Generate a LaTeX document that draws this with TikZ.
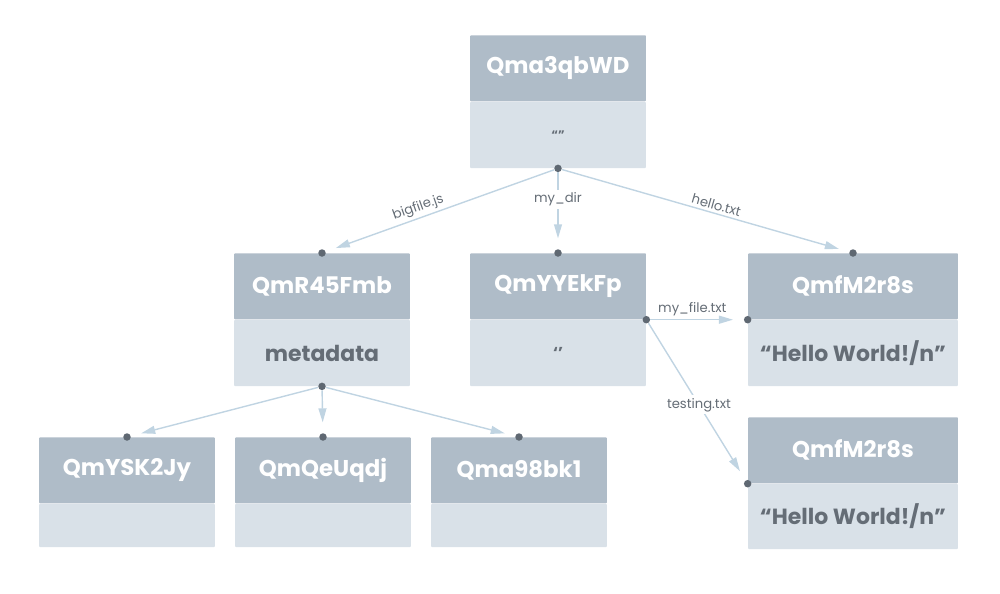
\documentclass[tikz,border=0pt]{standalone}
\usepackage{fontspec}
\setmainfont{Poppins}
\usepackage{tikz}
\usetikzlibrary{arrows.meta}
\usetikzlibrary{positioning}
\definecolor{hgray}{HTML}{AFBCC8}
\definecolor{bgray}{HTML}{D9E1E8}
\definecolor{dgray}{HTML}{5F6872}
\definecolor{lblue}{HTML}{C0D4E2}
\definecolor{tgray}{HTML}{656D76}
\tikzset{
  hd/.style = {fill=hgray, text=white, font=\bfseries\fontsize{13}{15}\selectfont,
    minimum width=3.52cm, minimum height=1.32cm, inner sep=0, rounded corners=0.5pt},
  bd/.style = {fill=bgray, text=tgray, font=\bfseries\fontsize{12.5}{15}\selectfont,
    minimum width=3.52cm, minimum height=1.32cm, inner sep=0, rounded corners=0.5pt},
  circ/.style = {fill=dgray, circle, inner sep=0, minimum size=0.15cm},
  link/.style = {draw=lblue, line width=0.8pt, -{Triangle[length=8pt,width=4.5pt]}, shorten >=6pt},
  lbl/.style = {text=tgray, font=\fontsize{7.5}{9}\selectfont, inner sep=1.5pt}
}

\begin{document}
\begin{tikzpicture}[x=0.02cm, y=-0.02cm]
    \useasboundingbox (0, 0) rectangle (1000, 593);

    % root
    \node [hd, anchor=north] (root) at (558, 35) {Qma3qbWD};
    \node [bd, below=0pt of root, font=\bfseries\fontsize{7}{8}\selectfont] (rootb) {“”};

    % second row
    \node [hd, anchor=north] (big) at (322, 253) {QmR45Fmb};
    \node [bd, below=0pt of big] (bigb) {metadata};
    \node [hd, anchor=north] (dir) at (558, 253) {QmYYEkFp};
    \node [bd, below=0pt of dir, font=\bfseries\fontsize{9}{10}\selectfont] (dirb) {‘’};
    \node [hd, anchor=north, minimum width=4.2cm] (hello) at (853, 253) {QmfM2r8s};
    \node [bd, below=0pt of hello, minimum width=4.2cm] (hellob) {“Hello World!/n”};
    \node [hd, anchor=north, minimum width=4.2cm] (test) at (853, 417) {QmfM2r8s};
    \node [bd, below=0pt of test, minimum width=4.2cm, minimum height=1.3cm] (testb) {“Hello World!/n”};

    % blocks of bigfile.js
    \foreach \x/\n/\t in {127/ysk/QmYSK2Jy, 323/qeu/QmQeUqdj, 519/q98/Qma98bk1} {
      \node [hd, anchor=north] (\n) at (\x, 437) {\t};
      \node [bd, below=0pt of \n, minimum height=0.86cm] (\n b) {};
      \node [circ] (\n d) at (\n.north) {};
    }

    % dots
    \node [circ] (rootd) at (rootb.south) {};
    \node [circ] (bigd) at (big.north) {};
    \node [circ] (bigbd) at (bigb.south) {};
    \node [circ] (dird) at (dir.north) {};
    \node [circ] (dirbd) at (dir.south east) {};
    \node [circ] (hellod) at (hello.north) {};
    \node [circ] (hellobd) at (hello.south west) {};
    \node [circ] (testd) at (test.south west) {};

    % links
    \draw [link] (rootd) -- node [lbl, sloped, above, pos=0.58] {bigfile.js} (bigd);
    \draw [link] (rootd) -- node [lbl, fill=white, pos=0.35] {my\_dir} (dird);
    \draw [link] (rootd) -- node [lbl, sloped, above, pos=0.53] {hello.txt} (hellod);
    \draw [link] (dirbd) -- node [lbl, above, pos=0.45] {my\_file.txt} (hellobd);
    \draw [link] (dirbd) -- node [lbl, fill=white, pos=0.52] {testing.txt} (testd);
    \foreach \n in {ysk, qeu, q98} {
      \draw [link] (bigbd) -- (\n d);
    }
\end{tikzpicture}
\end{document}
